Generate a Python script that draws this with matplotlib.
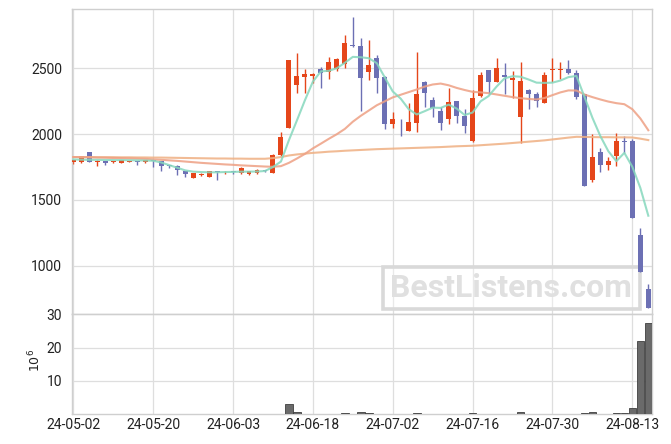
import matplotlib
matplotlib.use('Agg')
import matplotlib.pyplot as plt
from matplotlib.patches import Rectangle
import numpy as np

dates = ['24-05-02', '24-05-03', '24-05-07', '24-05-08', '24-05-09', '24-05-10', '24-05-13', '24-05-14',
         '24-05-16', '24-05-17', '24-05-20', '24-05-21', '24-05-22', '24-05-23', '24-05-24', '24-05-27',
         '24-05-28', '24-05-29', '24-05-30', '24-05-31', '24-06-03', '24-06-04', '24-06-05', '24-06-07',
         '24-06-10', '24-06-11', '24-06-12', '24-06-13', '24-06-14', '24-06-17', '24-06-18', '24-06-19',
         '24-06-20', '24-06-21', '24-06-24', '24-06-25', '24-06-26', '24-06-27', '24-06-28', '24-07-01',
         '24-07-02', '24-07-03', '24-07-04', '24-07-05', '24-07-08', '24-07-09', '24-07-10', '24-07-11',
         '24-07-12', '24-07-15', '24-07-16', '24-07-17', '24-07-18', '24-07-19', '24-07-22', '24-07-23',
         '24-07-24', '24-07-25', '24-07-26', '24-07-29', '24-07-30', '24-07-31', '24-08-01', '24-08-02',
         '24-08-05', '24-08-06', '24-08-07', '24-08-08', '24-08-09', '24-08-12', '24-08-13', '24-08-14',
         '24-08-16']

opens = [1790, 1788, 1862, 1790, 1795, 1788, 1783, 1790, 1795, 1788,
         1800, 1795, 1765, 1760, 1718, 1668, 1687, 1677, 1720, 1710,
         1717, 1708, 1700, 1706, 1727, 1708, 1838, 2049, 2375, 2437,
         2441, 2492, 2470, 2492, 2533, 2680, 2669, 2474, 2578, 2432,
         2079, 2110, 2026, 2087, 2398, 2259, 2175, 2112, 2251, 2137,
         1950, 2292, 2487, 2398, 2451, 2411, 2132, 2335, 2305, 2239,
         2485, 2485, 2495, 2462, 2305, 1651, 1864, 1767, 1836, 1948,
         1948, 1233, 823]
highs = [1805, 1835, 1865, 1805, 1797, 1797, 1805, 1798, 1797, 1805,
         1805, 1797, 1768, 1765, 1720, 1706, 1706, 1720, 1722, 1720,
         1720, 1750, 1720, 1732, 1730, 1852, 2014, 2565, 2614, 2492,
         2466, 2508, 2588, 2583, 2758, 2888, 2728, 2715, 2606, 2440,
         2170, 2112, 2234, 2622, 2405, 2284, 2204, 2348, 2255, 2188,
         2335, 2470, 2490, 2576, 2538, 2479, 2548, 2345, 2322, 2474,
         2576, 2550, 2561, 2485, 2305, 1998, 1892, 1828, 2011, 1988,
         1960, 1284, 858]
lows = [1775, 1780, 1788, 1758, 1767, 1782, 1780, 1785, 1767, 1782,
        1750, 1722, 1745, 1690, 1676, 1663, 1685, 1675, 1652, 1695,
        1700, 1695, 1692, 1700, 1712, 1705, 1836, 2045, 2310, 2310,
        2386, 2348, 2419, 2479, 2500, 2660, 2175, 2411, 2317, 2036,
        2044, 1986, 2022, 2018, 2208, 2128, 2031, 2074, 2082, 2011,
        1942, 2285, 2305, 2395, 2305, 2272, 1930, 2188, 2204, 2235,
        2398, 2421, 2460, 2269, 1605, 1636, 1710, 1727, 1760, 1854,
        1360, 950, 676]
closes = [1802, 1833, 1790, 1798, 1780, 1795, 1803, 1795, 1788, 1803,
          1795, 1760, 1758, 1730, 1698, 1704, 1699, 1718, 1713, 1716,
          1712, 1740, 1717, 1728, 1720, 1838, 1978, 2563, 2441, 2454,
          2457, 2464, 2548, 2571, 2692, 2667, 2429, 2525, 2429, 2079,
          2115, 2105, 2092, 2305, 2315, 2196, 2082, 2244, 2137, 2062,
          2279, 2449, 2398, 2502, 2436, 2426, 2403, 2305, 2254, 2449,
          2495, 2495, 2467, 2284, 1608, 1828, 1767, 1796, 1948, 1942,
          1365, 954, 676]
volumes = [0, 0, 0, 0, 0, 0, 0, 0, 0, 0,
           0, 0, 0, 0, 0, 0, 0, 0, 0, 0,
           0, 0, 0, 0, 0, 0.2, 0.2, 3.2, 0.8, 0.2,
           0.2, 0.2, 0.2, 0.05, 0.5, 0.2, 0.8, 0.5, 0.2, 0.2,
           0.02, 0.2, 0.2, 0.5, 0.02, 0.02, 0.2, 0.2, 0.02, 0.2,
           0.5, 0.2, 0.2, 0.2, 0.2, 0.2, 0.8, 0.2, 0.02, 0.02,
           0.2, 0.02, 0.2, 0.2, 0.5, 0.8, 0.2, 0.2, 0.5, 0.5,
           1.8, 22.0, 27.3]
ma_short = [1808, 1806, 1805, 1805, 1804, 1803, 1803, 1802, 1801, 1800,
            1798, 1785, 1765, 1745, 1725, 1715, 1712, 1710, 1710, 1712,
            1713, 1715, 1715, 1716, 1720, 1750, 1792, 1955, 2105, 2258,
            2400, 2478, 2482, 2502, 2543, 2588, 2585, 2578, 2540, 2432,
            2325, 2270, 2190, 2150, 2175, 2202, 2200, 2225, 2195, 2146,
            2165, 2250, 2290, 2362, 2425, 2441, 2437, 2416, 2392, 2390,
            2392, 2408, 2434, 2443, 2285, 2125, 1985, 1870, 1795, 1858,
            1752, 1592, 1380]
ma_mid = [1826, 1825, 1824, 1822, 1821, 1819, 1818, 1816, 1814, 1812,
          1808, 1805, 1801, 1797, 1792, 1787, 1782, 1778, 1774, 1770,
          1767, 1763, 1760, 1757, 1754, 1752, 1757, 1782, 1815, 1850,
          1892, 1928, 1965, 2000, 2040, 2095, 2140, 2180, 2220, 2250,
          2280, 2300, 2320, 2340, 2362, 2378, 2385, 2372, 2352, 2336,
          2322, 2318, 2312, 2302, 2292, 2282, 2274, 2268, 2264, 2275,
          2297, 2318, 2333, 2332, 2302, 2282, 2264, 2248, 2236, 2228,
          2190, 2120, 2030]
ma_long = [1826, 1826, 1826, 1825, 1825, 1825, 1824, 1824, 1823, 1823,
           1822, 1822, 1821, 1820, 1819, 1818, 1817, 1816, 1815, 1815,
           1814, 1814, 1813, 1813, 1813, 1818, 1826, 1838, 1846, 1852,
           1858, 1862, 1867, 1870, 1874, 1877, 1880, 1883, 1886, 1888,
           1890, 1892, 1894, 1896, 1898, 1900, 1902, 1905, 1908, 1910,
           1912, 1916, 1920, 1924, 1928, 1933, 1938, 1943, 1948, 1953,
           1960, 1967, 1974, 1980, 1979, 1978, 1977, 1977, 1976, 1976,
           1975, 1966, 1955]

price_ticks = [1000, 1500, 2000, 2500]
volume_ticks = [10, 20, 30]
date_tick_step = 10
watermark = 'BestListens.com'

UP = '#e5461a'
DOWN = '#6c70b4'
GRID = '#dedede'
SPINE = '#cfcfcf'

plt.rcParams['font.family'] = ['Roboto', 'DejaVu Sans']

fig = plt.figure(figsize=(6.71, 4.44), dpi=100)
ax = fig.add_axes([0.1069, 0.2921, 0.8644, 0.6870])
axv = fig.add_axes([0.1069, 0.0669, 0.8644, 0.2252], sharex=ax)

x = np.arange(len(dates))
o = np.array(opens, float)
h = np.array(highs, float)
l = np.array(lows, float)
c = np.array(closes, float)
cols = np.where(c >= o, UP, DOWN)

ax.vlines(x, l, h, colors=cols, lw=1.0, zorder=2)
bottoms = np.minimum(o, c)
heights = np.maximum(np.abs(c - o), 5)
ax.bar(x, heights, width=0.62, bottom=bottoms, color=cols, zorder=3)

ax.plot(x, ma_long, color='#efb083', lw=1.5, alpha=0.85, zorder=4)
ax.plot(x, ma_mid, color='#eea084', lw=1.5, alpha=0.85, zorder=4)
ax.plot(x, ma_short, color='#86d8bd', lw=1.5, alpha=0.85, zorder=4)

ax.set_ylim(630, 2950)
ax.set_xlim(-0.2, 72.43)
ax.set_yticks(price_ticks)
ax.set_yticklabels([str(v) for v in price_ticks])
ax.tick_params(axis='x', labelbottom=False, length=0)
ax.tick_params(axis='y', length=0, pad=7, labelsize=10, labelcolor='#222222')
ax.grid(True, color=GRID, lw=0.9)
ax.set_axisbelow(True)

# watermark
ax.add_patch(Rectangle((0.5367, 0.0174), 0.4431, 0.1376, transform=ax.transAxes,
                       facecolor='white', alpha=0.35, edgecolor='none', zorder=1.4))
ax.add_patch(Rectangle((0.5367, 0.0174), 0.4431, 0.1376, transform=ax.transAxes,
                       fill=False, edgecolor='#d9d9d9', lw=2.6, zorder=1.5))
ax.text(0.758, 0.086, watermark, transform=ax.transAxes, ha='center', va='center',
        fontsize=23, fontweight='bold', color='#e0e0e0', zorder=1.6)

axv.bar(x, volumes, width=0.95, color='#6a6a6a', edgecolor='#3f3f3f', lw=0.6, zorder=3)
axv.set_ylim(0, 30)
axv.set_yticks(volume_ticks)
axv.set_yticklabels([str(v) for v in volume_ticks])
tick_idx = list(range(0, len(dates), date_tick_step))
axv.set_xticks(tick_idx)
axv.set_xticklabels([dates[i] for i in tick_idx])
axv.tick_params(axis='x', length=0, pad=3, labelsize=10, labelcolor='#222222')
axv.tick_params(axis='y', length=0, pad=7, labelsize=10, labelcolor='#222222')
axv.grid(True, color=GRID, lw=0.9)
axv.set_axisbelow(True)

for a in (ax, axv):
    for s in a.spines.values():
        s.set_color(SPINE)
        s.set_linewidth(1.0)

fig.text(35 / 671, 1 - 360 / 444, '$10^6$', rotation=90, ha='center', va='center',
         fontsize=9, color='#222222')

fig.savefig('out.png', dpi=100)
